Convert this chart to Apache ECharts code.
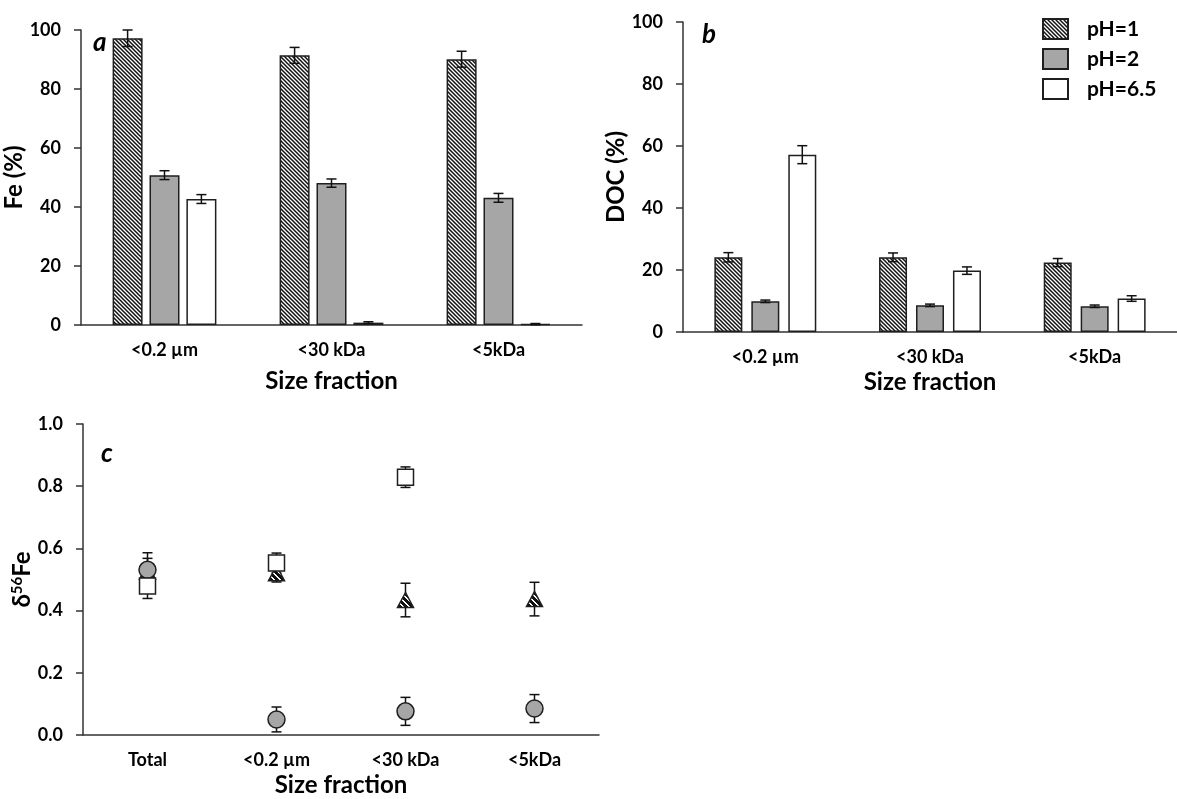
<!DOCTYPE html>
<html>
<head>
<meta charset="utf-8">
<script src="https://cdn.jsdelivr.net/npm/echarts@6.0.0/dist/echarts.min.js"></script>
<style>
  html, body { margin: 0; padding: 0; background: #fff; }
  #chart { width: 1177px; height: 799px; }
</style>
</head>
<body>
<div id="chart"></div>
<script>
// categories
const sizeLabels = ['<0.2 µm', '<30 kDa', '<5kDa'];
const isoLabels = ['Total', '<0.2 µm', '<30 kDa', '<5kDa'];
const phNames = ['pH=1', 'pH=2', 'pH=6.5'];

// panel a: Fe (%) per pH, per size fraction
const feMean = [[97.2, 91.4, 90.1], [50.8, 48.1, 43.1], [42.7, 0.8, 0.3]];
const feErr = [[2.8, 2.7, 2.7], [1.5, 1.4, 1.5], [1.5, 0.3, 0.2]];

// panel b: DOC (%)
const docMean = [[24.1, 24.1, 22.4], [9.9, 8.6, 8.3], [57.2, 19.8, 10.8]];
const docErr = [[1.5, 1.4, 1.3], [0.4, 0.4, 0.4], [2.9, 1.2, 0.9]];

// panel c: d56Fe (null = no measurement)
const delMean = [[0.525, 0.52, 0.434, 0.437], [0.531, 0.05, 0.076, 0.085], [0.479, 0.553, 0.829, null]];
const delErr = [[0.043, 0.028, 0.054, 0.054], [0.055, 0.04, 0.045, 0.045], [0.04, 0.032, 0.033, null]];

const FONT = 'Lato';
const EDGE = '#1f1f1f';

function makeHatch(n, w) {
    const c = document.createElement('canvas');
    c.width = n; c.height = n;
    const g = c.getContext('2d');
    g.fillStyle = '#fff';
    g.fillRect(0, 0, n, n);
    g.strokeStyle = '#111';
    g.lineWidth = w;
    g.beginPath();
    g.moveTo(-n, -n); g.lineTo(2 * n, 2 * n);
    g.moveTo(-n, 0); g.lineTo(n, 2 * n);
    g.moveTo(0, -n); g.lineTo(2 * n, n);
    g.stroke();
    return c;
}
const hatch = { image: makeHatch(4, 1.5), repeat: 'repeat' };
// scatter symbols are drawn from a unit shape scaled up, so the pattern is shrunk back
const triSize = [16, 15];
const hatchSym = {
    image: makeHatch(48, 22), repeat: 'repeat',
    scaleX: 2 / triSize[0] / 8, scaleY: 2 / triSize[1] / 8,
};
const fills = [hatch, '#a6a6a6', '#ffffff'];

const labelStyle = { fontFamily: FONT, fontWeight: 'bold', fontSize: 18, color: '#000' };
const nameStyle = { fontFamily: FONT, fontWeight: 'bold', fontSize: 24, color: '#000' };
const axisLine = { show: true, lineStyle: { color: '#333', width: 1.5 } };

function catAxis(gridIndex, labels, gap) {
    return {
        type: 'category', gridIndex, data: labels, boundaryGap: true,
        axisLine, axisTick: { show: false },
        axisLabel: { ...labelStyle, margin: 16, interval: 0 },
        name: 'Size fraction', nameLocation: 'middle', nameGap: gap, nameTextStyle: nameStyle,
    };
}
function valAxis(gridIndex, max, interval, name, gap, fmt) {
    return {
        type: 'value', gridIndex, min: 0, max, interval,
        axisLine, splitLine: { show: false },
        axisTick: { show: true, length: 7, inside: false, lineStyle: { color: '#333', width: 1.5 } },
        axisLabel: { ...labelStyle, margin: 20, formatter: fmt },
        name, nameLocation: 'middle', nameGap: gap, nameRotate: 90, nameTextStyle: nameStyle,
    };
}

// vertical error bar with caps, shifted horizontally by dx
function errRender(dx) {
    return function (params, api) {
        const x = api.value(0), v = api.value(1), e = api.value(2);
        if (v == null || isNaN(v)) return;
        const top = api.coord([x, v + e]);
        const bot = api.coord([x, Math.max(v - e, 0)]);
        const cx = top[0] + dx;
        const st = { stroke: '#111', lineWidth: 1.5 };
        return {
            type: 'group',
            children: [
                { type: 'line', shape: { x1: cx, y1: top[1], x2: cx, y2: bot[1] }, style: st },
                { type: 'line', shape: { x1: cx - 5, y1: top[1], x2: cx + 5, y2: top[1] }, style: st },
                { type: 'line', shape: { x1: cx - 5, y1: bot[1], x2: cx + 5, y2: bot[1] }, style: st },
            ],
        };
    };
}

const series = [];
function barPanel(idx, means, errs, barWidth, gapPct) {
    const step = barWidth * (1 + gapPct / 100);
    means.forEach((m, i) => {
        series.push({
            name: phNames[i], type: 'bar', xAxisIndex: idx, yAxisIndex: idx,
            data: m, barWidth, barGap: gapPct + '%',
            itemStyle: { color: fills[i], borderColor: EDGE, borderWidth: 1.5 },
            emphasis: { disabled: true },
        });
        series.push({
            type: 'custom', xAxisIndex: idx, yAxisIndex: idx, z: 5,
            renderItem: errRender((i - 1) * step),
            encode: { x: 0, y: 1 },
            data: m.map((v, k) => [k, v, errs[i][k]]),
        });
    });
}
barPanel(0, feMean, feErr, 30, 23);
barPanel(1, docMean, docErr, 28, 32);

const symbols = ['triangle', 'circle', 'rect'];
const symSizes = [triSize, 17, [16, 16]];
const symFills = [hatchSym, '#a6a6a6', '#ffffff'];
delMean.forEach((m, i) => {
    series.push({
        type: 'custom', xAxisIndex: 2, yAxisIndex: 2, z: 2,
        renderItem: errRender(0), encode: { x: 0, y: 1 },
        data: m.map((v, k) => [k, v == null ? NaN : v, delErr[i][k] == null ? 0 : delErr[i][k]]),
    });
    series.push({
        type: 'scatter', xAxisIndex: 2, yAxisIndex: 2, z: 3 + i,
        symbol: symbols[i], symbolSize: symSizes[i],
        itemStyle: { color: symFills[i], borderColor: EDGE, borderWidth: 1.5, opacity: 1 },
        emphasis: { disabled: true },
        data: m.map((v, k) => (v == null ? null : [k, v])).filter(d => d),
    });
});

const letter = (text, left, top) => ({
    text, left, top,
    textStyle: { fontFamily: FONT, fontWeight: 'bold', fontStyle: 'italic', fontSize: 26, color: '#000' },
});

const option = {
    animation: false,
    title: [letter('a', 88, 25), letter('b', 697, 17), letter('c', 96, 436)],
    legend: {
        show: true, orient: 'vertical', left: 1037, top: 13,
        data: phNames, icon: 'rect', itemWidth: 25, itemHeight: 20, itemGap: 8,
        textStyle: { fontFamily: FONT, fontWeight: 'bold', fontSize: 21, color: '#000', padding: [0, 0, 0, 14] },
        selectedMode: false,
    },
    grid: [
        { left: 81, top: 30, width: 501, height: 295 },
        { left: 683, top: 22, width: 494, height: 310 },
        { left: 83, top: 424, width: 516, height: 311 },
    ],
    xAxis: [catAxis(0, sizeLabels, 44), catAxis(1, sizeLabels, 38), catAxis(2, isoLabels, 38)],
    yAxis: [
        valAxis(0, 100, 20, 'Fe (%)', 43),
        valAxis(1, 100, 20, 'DOC (%)', 42),
        Object.assign(valAxis(2, 1, 0.2, '', 46, v => v.toFixed(1)), {
            name: '{d|δ}{s|56}{d|Fe}',
            nameTextStyle: {
                ...nameStyle,
                rich: {
                    d: { fontFamily: FONT, fontWeight: 'bold', fontSize: 24, color: '#000' },
                    s: { fontFamily: FONT, fontWeight: 'bold', fontSize: 15, color: '#000', verticalAlign: 'top', padding: [0, 0, 8, 0] },
                },
            },
        }),
    ],
    series,
};

const chart = echarts.init(document.getElementById('chart'), null, { renderer: 'canvas' });
chart.setOption(option);
</script>
</body>
</html>
